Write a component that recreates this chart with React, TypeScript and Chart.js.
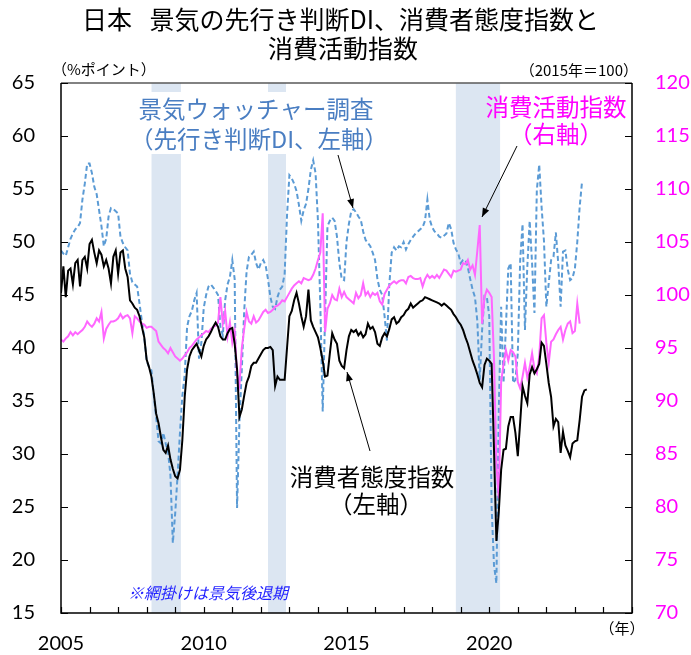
import React, { useEffect, useRef } from 'react';
import { Chart, registerables } from 'chart.js';

Chart.register(...registerables);

// ---- data (monthly, starting January 2005) ----
const START_YEAR = 2005;
const xTickLabels = [2005, 2010, 2015, 2020];
const recessionStart = [2008.17, 2012.25, 2018.83];
const recessionEnd = [2009.2, 2012.88, 2020.38];

// 景気ウォッチャー調査 先行き判断DI (left axis)
const watcherDI = [
  49.2, 48.9, 48.7, 49.5, 50.3, 50.8, 51.2, 51.4, 51.8, 54.0, 55.5, 57.4,
  57.4, 56.5, 55.2, 54.5, 53.0, 51.5, 49.6, 50.3, 52.4, 53.2, 53.1, 52.9,
  52.7, 50.5, 49.9, 49.5, 49.2, 47.0, 46.2, 46.0, 45.8, 44.2, 42.5, 41.0,
  38.8, 38.2, 37.9, 35.5, 33.5, 31.2, 31.0, 32.0, 31.0, 30.2, 28.0, 21.6,
  24.4, 28.0, 32.0, 35.5, 37.5, 42.0, 43.0, 43.5, 44.5, 45.2, 39.0, 40.5,
  43.8, 45.0, 45.8, 46.0, 45.7, 45.4, 45.0, 42.0, 41.2, 44.5, 46.0, 46.7,
  48.3, 46.5, 24.9, 33.0, 38.0, 43.5, 47.2, 48.6, 48.8, 49.1, 48.0, 47.4,
  48.0, 48.3, 47.8, 46.5, 44.8, 43.9, 43.7, 44.8, 45.5, 45.8, 47.0, 52.5,
  56.3, 56.0, 55.5, 54.8, 53.5, 52.0, 53.0, 53.6, 55.0, 56.8, 57.7, 56.5,
  52.0, 44.0, 34.0, 43.0, 51.5, 52.0, 52.3, 52.0, 50.5, 48.0, 46.5, 46.4,
  50.0, 51.7, 52.9, 53.1, 52.8, 52.4, 52.1, 51.0, 50.2, 49.9, 49.6, 49.0,
  48.3, 46.5, 45.5, 45.0, 43.0, 40.7, 46.0, 49.0, 49.5, 49.2, 49.6, 49.5,
  50.0, 49.3, 49.8, 50.2, 50.5, 50.8, 51.0, 51.2, 51.4, 52.0, 54.0, 52.1,
  51.4, 51.0, 50.8, 50.5, 50.4, 50.6, 50.8, 51.8, 51.2, 49.9, 49.3, 48.9,
  48.0, 48.3, 48.3, 47.6, 46.5, 45.5, 44.8, 42.5, 37.0, 41.7, 44.9, 44.8,
  43.0, 25.0, 19.5, 17.8, 34.0, 43.9, 36.7, 42.0, 47.5, 48.0, 36.7, 37.0,
  39.5, 48.3, 51.7, 41.7, 47.7, 52.0, 48.0, 43.3, 54.9, 57.3, 53.3, 50.1,
  43.9, 46.1, 48.3, 48.6, 50.9, 48.0, 43.9, 49.1, 49.2, 47.4, 46.4, 46.6,
  47.5, 50.0, 53.3, 55.7,
];

// 消費者態度指数 (left axis)
const consumerConfidence = [
  45.2, 47.7, 44.8, 47.3, 47.5, 46.0, 48.0, 48.3, 45.8, 48.3, 48.6, 47.5,
  49.8, 50.2, 49.0, 48.0, 49.2, 48.8, 47.7, 48.3, 47.5, 46.1, 48.6, 49.2,
  47.0, 49.0, 49.2, 47.5, 46.7, 44.5, 44.2, 43.8, 43.6, 43.0, 42.0, 41.0,
  38.9, 38.2, 37.3, 35.7, 33.8, 32.9, 31.6, 30.4, 30.1, 30.8, 29.5, 28.6,
  27.9, 27.7, 28.5, 31.3, 35.4, 38.0, 39.2, 39.8, 40.1, 40.4, 39.8, 39.2,
  40.2, 40.8, 41.1, 41.5, 42.0, 42.4, 42.0, 41.1, 40.8, 40.8, 41.4, 41.8,
  41.9, 40.4, 38.0, 33.5, 34.2, 35.5, 36.7, 37.3, 38.3, 38.6, 38.6, 39.0,
  39.4, 39.8, 40.0, 40.0, 40.1, 39.8, 36.4, 37.3, 37.0, 37.0, 37.0, 40.0,
  43.0, 43.5, 44.5, 45.2, 44.2, 43.0, 42.0, 43.0, 45.5, 42.6, 42.0, 41.5,
  41.0, 40.0, 38.8, 37.3, 37.4, 39.5, 41.4, 40.8, 40.4, 38.8, 38.3, 38.1,
  39.8, 41.1, 41.7, 41.5, 41.7, 41.2, 41.5, 41.0, 41.3, 42.3, 41.8, 42.0,
  41.5, 40.4, 40.2, 41.0, 41.4, 41.1, 41.8, 42.7, 42.9, 42.3, 42.5, 42.9,
  43.1, 43.5, 43.7, 44.2, 43.8, 44.0, 44.2, 44.4, 44.5, 44.8, 44.7, 44.6,
  44.5, 44.4, 44.3, 44.2, 44.0, 44.2, 44.0, 43.8, 43.6, 43.2, 42.9, 42.5,
  42.2, 41.7, 41.0, 40.4, 39.6, 38.8, 38.2, 37.5, 36.7, 36.3, 38.4, 39.0,
  38.8, 38.5, 30.4, 21.8, 24.5, 28.5, 30.4, 30.5, 32.6, 33.5, 33.5, 32.0,
  29.8, 33.0, 36.4, 35.5, 34.8, 37.5, 38.2, 37.6, 38.0, 38.5, 40.5, 40.2,
  38.5, 36.7, 35.4, 32.6, 33.3, 33.0, 30.1, 32.1, 30.8, 30.3, 29.7, 31.0,
  31.2, 31.3, 33.2, 35.4, 36.0, 36.1,
];

// 消費活動指数 2015年=100 (right axis)
const consumptionActivity = [
  95.8, 95.6, 95.9, 96.1, 96.5, 96.2, 96.5, 96.3, 96.5, 96.7, 97.0, 97.5,
  97.2, 97.0, 97.3, 97.8, 97.5, 98.4, 95.9, 96.8, 97.2, 97.5, 97.5, 97.6,
  97.8, 98.2, 97.8, 98.0, 98.1, 97.8, 96.4, 98.0, 97.8, 97.5, 97.3, 97.2,
  96.9, 97.0, 97.0, 96.8, 96.6, 95.6, 95.3, 95.0, 94.8, 94.5, 95.0, 94.6,
  94.2, 94.0, 93.8, 94.0, 94.3, 94.6, 95.0, 95.2, 95.5, 95.8, 96.0, 96.2,
  96.4, 96.6, 96.5, 96.8, 97.0, 97.1, 97.4, 99.8, 97.3, 98.5, 96.1, 97.4,
  95.5, 96.6, 92.5, 91.5, 95.0, 96.8, 98.4, 97.5, 97.3, 98.0, 97.4, 97.6,
  98.0, 98.4, 98.6, 98.3, 98.4, 98.6, 98.9, 99.0, 99.2, 99.5, 99.4, 99.8,
  100.2, 100.6, 100.9, 101.1, 101.3, 101.1, 101.6, 101.5, 101.4, 101.5, 101.9, 102.5,
  103.3, 104.0, 107.7, 96.5, 98.7, 99.2, 100.0, 99.6, 99.5, 100.6, 99.8, 100.3,
  99.8, 99.6, 99.4, 99.2, 100.2, 99.7, 100.0, 101.1, 100.0, 100.3, 99.8, 100.2,
  100.0, 100.2, 99.4, 99.1, 100.1, 100.5, 100.9, 101.1, 101.3, 101.1, 101.3, 101.4,
  101.4, 101.1, 101.7, 101.8, 101.6, 101.5, 101.5, 101.6, 100.8, 101.5, 101.9, 101.6,
  101.8, 101.6, 101.9, 101.6, 102.0, 102.4, 102.3, 102.0, 101.7, 102.3, 102.2, 102.3,
  102.4, 103.0, 102.9, 103.3, 102.4, 102.8, 101.9, 104.2, 106.6, 97.3, 99.8, 100.5,
  100.2, 99.8, 94.0, 84.0, 80.8, 91.8, 93.5, 94.8, 93.8, 94.8, 94.6, 94.2,
  91.8, 91.2, 92.3, 93.6, 92.2, 93.2, 94.5, 93.0, 92.6, 94.2, 97.8, 98.1,
  95.5, 93.6, 95.6, 95.8, 96.3, 96.7, 97.0, 95.8, 96.7, 97.3, 97.5, 96.4,
  96.6, 99.2, 97.3,
];

const TITLE_1A = '日本';
const TITLE_1B = '景気の先行き判断DI、消費者態度指数と';
const TITLE_2 = '消費活動指数';

const toPoints = (arr: number[]) => arr.map((v, i) => ({ x: START_YEAR + i / 12, y: v }));

const JP = '"Noto Sans CJK JP", "Noto Sans", sans-serif';
const NUM = 'Lato, "Open Sans", sans-serif';

function arrow(ctx: CanvasRenderingContext2D, x1: number, y1: number, x2: number, y2: number) {
  ctx.beginPath();
  ctx.moveTo(x1, y1);
  ctx.lineTo(x2, y2);
  ctx.stroke();
  const a = Math.atan2(y2 - y1, x2 - x1);
  const L = 9, W = 3.5;
  ctx.beginPath();
  ctx.moveTo(x2, y2);
  ctx.lineTo(x2 - L * Math.cos(a) + W * Math.sin(a), y2 - L * Math.sin(a) - W * Math.cos(a));
  ctx.lineTo(x2 - L * Math.cos(a) - W * Math.sin(a), y2 - L * Math.sin(a) + W * Math.cos(a));
  ctx.closePath();
  ctx.fill();
}

const decorPlugin = {
  id: 'decor',
  beforeDatasetsDraw(chart: any) {
    const { ctx, chartArea: ca, scales } = chart;
    ctx.save();
    ctx.fillStyle = '#DCE6F2';
    recessionStart.forEach((s, i) => {
      const x0 = scales.x.getPixelForValue(s);
      const x1 = scales.x.getPixelForValue(recessionEnd[i]);
      ctx.fillRect(x0, ca.top, x1 - x0, ca.bottom - ca.top);
    });
    // white box behind the watcher label
    ctx.fillStyle = '#FFFFFF';
    ctx.fillRect(133, 92, 254, 62);
    ctx.restore();
  },
  afterDatasetsDraw(chart: any) {
    const { ctx, chartArea: ca, scales } = chart;
    ctx.save();
    // frame
    ctx.lineWidth = 1.5;
    ctx.strokeStyle = '#595959';
    ctx.beginPath();
    ctx.moveTo(ca.left, ca.top);
    ctx.lineTo(ca.right, ca.top);
    ctx.stroke();
    ctx.strokeStyle = '#000';
    ctx.beginPath();
    ctx.moveTo(ca.left, ca.top);
    ctx.lineTo(ca.left, ca.bottom);
    ctx.lineTo(ca.right, ca.bottom);
    ctx.lineTo(ca.right, ca.top);
    ctx.stroke();
    // inner ticks
    ctx.lineWidth = 1.2;
    ctx.beginPath();
    scales.x.ticks.forEach((t: any) => {
      const px = Math.round(scales.x.getPixelForValue(t.value)) + 0.5;
      ctx.moveTo(px, ca.bottom);
      ctx.lineTo(px, ca.bottom - 6);
    });
    scales.y.ticks.forEach((t: any) => {
      const py = Math.round(scales.y.getPixelForValue(t.value)) + 0.5;
      ctx.moveTo(ca.left, py);
      ctx.lineTo(ca.left + 7, py);
    });
    scales.y2.ticks.forEach((t: any) => {
      const py = Math.round(scales.y2.getPixelForValue(t.value)) + 0.5;
      ctx.moveTo(ca.right, py);
      ctx.lineTo(ca.right - 7, py);
    });
    ctx.stroke();

    // arrows
    ctx.strokeStyle = '#000';
    ctx.fillStyle = '#000';
    ctx.lineWidth = 1;
    arrow(ctx, 338, 155, 353, 208);
    arrow(ctx, 517, 146, 482, 217);
    arrow(ctx, 370, 451, 347, 372);
    ctx.restore();
  },
  afterDraw(chart: any) {
    const { ctx } = chart;
    ctx.save();
    ctx.textBaseline = 'middle';
    ctx.fillStyle = '#000';
    ctx.font = `25px ${JP}`;
    ctx.textAlign = 'left';
    ctx.fillText(TITLE_1A, 82, 19);
    ctx.textAlign = 'right';
    ctx.fillText(TITLE_1B, 599, 19);
    ctx.textAlign = 'center';
    ctx.fillText(TITLE_2, 343, 48);

    ctx.font = `15px ${JP}`;
    ctx.textAlign = 'left';
    ctx.fillText('（%ポイント）', 52, 69);
    ctx.textAlign = 'right';
    ctx.fillText('（2015年＝100）', 638, 70);
    ctx.textAlign = 'center';
    ctx.fillText('（年）', 622, 628);

    ctx.font = `23.5px ${JP}`;
    ctx.fillStyle = '#4A7EC2';
    ctx.fillText('景気ウォッチャー調査', 256, 109);
    ctx.fillText('（先行き判断DI、左軸）', 259, 139);

    ctx.fillStyle = '#FF00FF';
    ctx.fillText('消費活動指数', 556, 107);
    ctx.fillText('（右軸）', 556, 134);

    ctx.fillStyle = '#000';
    ctx.fillText('消費者態度指数', 372, 477);
    ctx.fillText('（左軸）', 376, 504);

    ctx.font = `italic 16px ${JP}`;
    ctx.fillStyle = '#1F1FFF';
    ctx.fillText('※網掛けは景気後退期', 208, 593);
    ctx.restore();
  },
};

export default function App() {
  const ref = useRef<HTMLCanvasElement | null>(null);
  useEffect(() => {
    if (!ref.current) return;
    const chart = new Chart(ref.current, {
      type: 'line',
      data: {
        datasets: [
          {
            label: '消費者態度指数',
            data: toPoints(consumerConfidence),
            borderColor: '#000000',
            borderWidth: 2,
            pointRadius: 0,
            tension: 0,
            yAxisID: 'y',
            order: 1,
          },
          {
            label: '消費活動指数',
            data: toPoints(consumptionActivity),
            borderColor: '#FF66FF',
            borderWidth: 2,
            pointRadius: 0,
            tension: 0,
            yAxisID: 'y2',
            order: 2,
          },
          {
            label: '景気ウォッチャー調査（先行き判断DI）',
            data: toPoints(watcherDI),
            borderColor: '#5B9BD5',
            borderWidth: 2,
            borderDash: [5, 3],
            pointRadius: 0,
            tension: 0,
            yAxisID: 'y',
            order: 3,
          },
        ],
      },
      options: {
        responsive: false,
        animation: false,
        layout: { padding: { top: 83, left: 0, right: 0, bottom: 0 } },
        plugins: {
          legend: { display: false },
          tooltip: { enabled: false },
          title: { display: false },
        },
        scales: {
          x: {
            type: 'linear',
            min: 2005,
            max: 2025,
            afterFit: (s: any) => { s.height = 42; },
            grid: { display: false, drawTicks: false },
            border: { display: false },
            ticks: {
              stepSize: 1,
              autoSkip: false,
              maxRotation: 0,
              padding: 19,
              color: '#000',
              font: { family: NUM, size: 20 },
              callback: (v: any) => (xTickLabels.includes(Number(v)) ? String(v) : ''),
            },
          },
          y: {
            position: 'left',
            min: 15,
            max: 65,
            afterFit: (s: any) => { s.width = 61; },
            grid: { display: false, drawTicks: false },
            border: { display: false },
            ticks: { stepSize: 5, padding: 26, color: '#000', font: { family: NUM, size: 20 } },
          },
          y2: {
            position: 'right',
            min: 70,
            max: 120,
            afterFit: (s: any) => { s.width = 59; },
            grid: { display: false, drawTicks: false },
            border: { display: false },
            ticks: { stepSize: 5, padding: 23, color: '#FF00FF', font: { family: NUM, size: 20 } },
          },
        },
      },
      plugins: [decorPlugin],
    } as any);
    return () => chart.destroy();
  }, []);

  return (
    <div style={{ position: 'absolute', left: 0, top: 0, width: 691, height: 655, background: '#fff' }}>
      <canvas ref={ref} width={691} height={655} style={{ display: 'block' }} />
    </div>
  );
}
